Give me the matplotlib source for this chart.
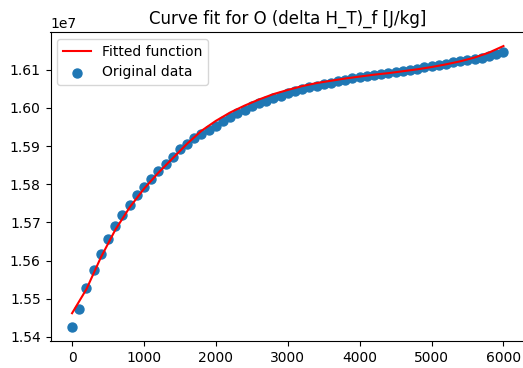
import numpy as np
import matplotlib
matplotlib.use("Agg")
import matplotlib.pyplot as plt

# original data, x every 100 from 0 to 6000 (values in J/kg)
x_data = np.arange(0, 6001, 100)
y_data = np.array([
    1.5426, 1.5473, 1.5527, 1.5575, 1.5618, 1.5656, 1.5690, 1.5719, 1.5746, 1.5772,
    1.5794, 1.5814, 1.5834, 1.5852, 1.5872, 1.5891, 1.5906, 1.5920, 1.5932, 1.5943,
    1.5953, 1.5965, 1.5976, 1.5986, 1.5995, 1.6004, 1.6012, 1.6019, 1.6026, 1.6032,
    1.6038, 1.6044, 1.6049, 1.6054, 1.6058, 1.6062, 1.6066, 1.6070, 1.6074, 1.6077,
    1.6080, 1.6083, 1.6086, 1.6089, 1.6092, 1.6094, 1.6097, 1.6100, 1.6103, 1.6106,
    1.6109, 1.6112, 1.6116, 1.6119, 1.6122, 1.6125, 1.6128, 1.6131, 1.6135, 1.6140,
    1.6146,
]) * 1e7

# fitted curve, x every 200
x_fit = np.arange(0, 6001, 200)
y_fit = np.array([
    1.5462, 1.5525, 1.5608, 1.5680, 1.5739, 1.5788, 1.5830, 1.5868, 1.5906, 1.5940,
    1.5966, 1.5988, 1.6006, 1.6022, 1.6036, 1.6047, 1.6057, 1.6065, 1.6071, 1.6077,
    1.6082, 1.6087, 1.6091, 1.6096, 1.6101, 1.6107, 1.6114, 1.6122, 1.6132, 1.6145,
    1.6162,
]) * 1e7

fig = plt.figure(figsize=(5.23, 3.68), dpi=100)
ax = fig.add_axes([50.5 / 523, 27 / 368, 474.5 / 523, 309 / 368])

sc = ax.scatter(x_data, y_data, s=42, color="#1f77b4", label="Original data")
ln, = ax.plot(x_fit, y_fit, color="red", lw=1.5, label="Fitted function")

ax.set_title("Curve fit for O (delta H_T)_f [J/kg]")
ax.legend(handles=[ln, sc], loc="upper left")

fig.savefig("out.png", dpi=100)
